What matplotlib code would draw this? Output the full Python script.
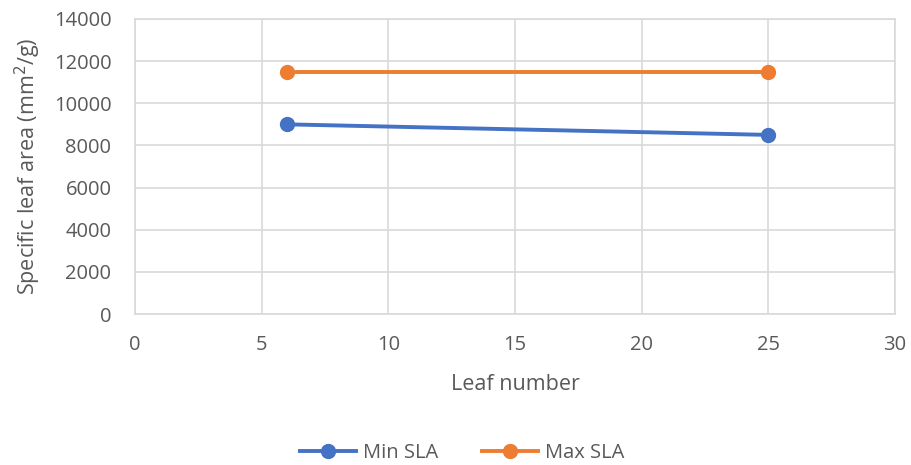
import matplotlib
matplotlib.use("Agg")
import matplotlib.pyplot as plt
from matplotlib.lines import Line2D

leaf_number = [6, 25]
min_sla = [9000, 8500]
max_sla = [11500, 11500]
series_names = ["Min SLA", "Max SLA"]
x_ticks = [0, 5, 10, 15, 20, 25, 30]
y_ticks = [0, 2000, 4000, 6000, 8000, 10000, 12000, 14000]

plt.rcParams['font.family'] = ['Open Sans', 'DejaVu Sans']
blue = '#4472C4'
orange = '#ED7D31'
grid = '#D9D9D9'
txt = '#595959'

fig = plt.figure(figsize=(9.11, 4.65), dpi=100)
ax = fig.add_axes([135/911, 1-314/465, (895-135)/911, (314-19)/465])

ax.plot(leaf_number, min_sla, color=blue, lw=2.8, marker='o', ms=10, label=series_names[0], solid_capstyle='round')
ax.plot(leaf_number, max_sla, color=orange, lw=2.8, marker='o', ms=10, label=series_names[1], solid_capstyle='round')

ax.set_xlim(0, 30)
ax.set_ylim(0, 14000)
ax.set_xticks(x_ticks)
ax.set_yticks(y_ticks)
ax.grid(True, color=grid, lw=1.2)
ax.set_axisbelow(True)
for s in ax.spines.values():
    s.set_color(grid)
    s.set_linewidth(1.2)
ax.tick_params(axis='y', length=0, labelsize=14.5, colors=txt, pad=17)
ax.tick_params(axis='x', length=0, labelsize=14.5, colors=txt, pad=15)
ax.set_xlabel("Leaf number", fontsize=15.5, color=txt, labelpad=14)
ax.set_ylabel("Specific leaf area (mm$^2$/g)", fontsize=15.5, color=txt, labelpad=8)

handles = [Line2D([], [], color=blue, lw=2.8, marker='o', ms=10),
           Line2D([], [], color=orange, lw=2.8, marker='o', ms=10)]
fig.legend(handles, series_names, loc='center', bbox_to_anchor=(462/911, 1-453/465), ncol=2,
           frameon=False, fontsize=14.5, labelcolor=txt, handlelength=2.8, columnspacing=2.2, handletextpad=0.3)

fig.savefig("out.png", dpi=100)
